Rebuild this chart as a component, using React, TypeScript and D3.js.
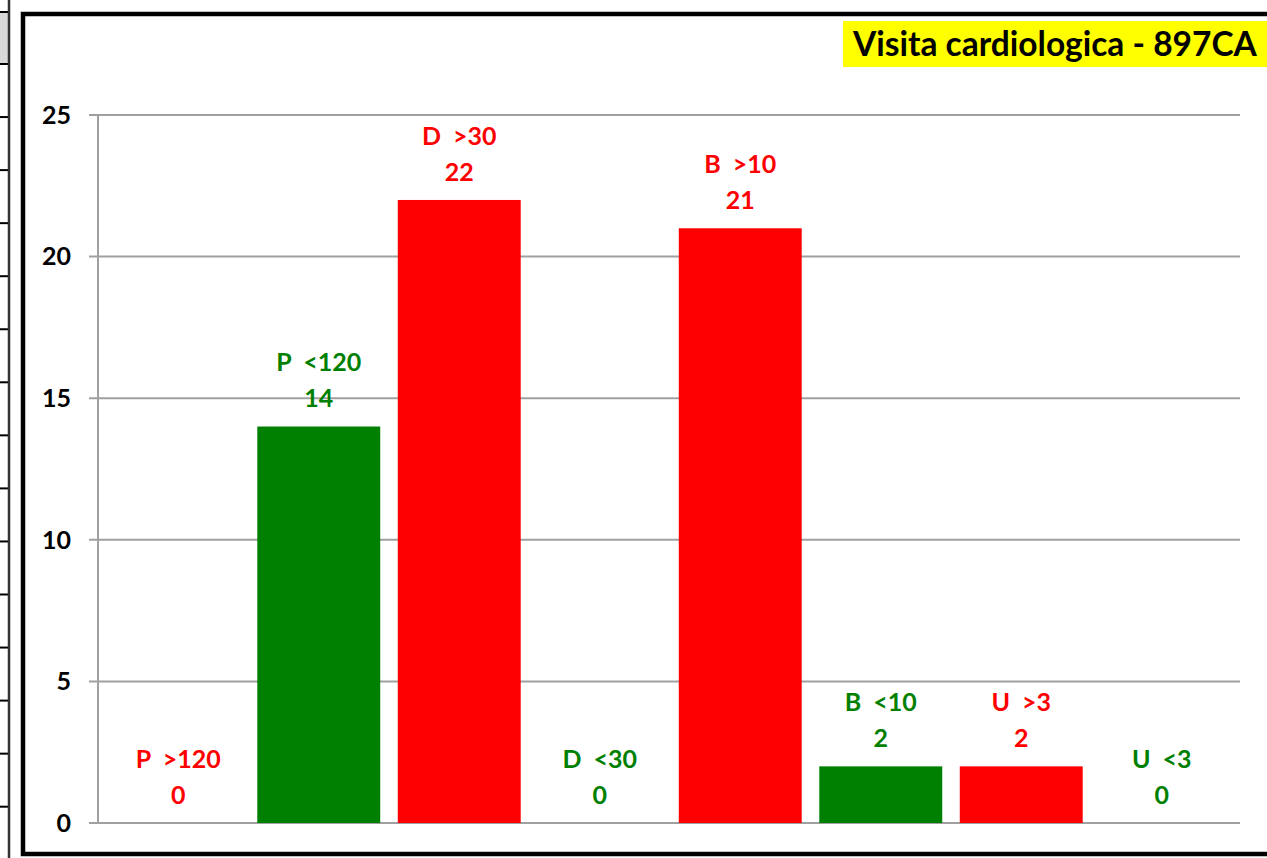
import React, { useEffect } from "react";
import * as d3 from "d3";

// dati del grafico
const categories = ["P  >120", "P  <120", "D  >30", "D  <30", "B  >10", "B  <10", "U  >3", "U  <3"];
const values = [0, 14, 22, 0, 21, 2, 2, 0];
const status = ["alto", "basso", "alto", "basso", "alto", "basso", "alto", "basso"];
const yTicks = [0, 5, 10, 15, 20, 25];
const title = "Visita cardiologica - 897CA";

const W = 1267;
const H = 858;
const FONT = "Lato, 'Open Sans', sans-serif";
const colore = (s: string) => (s === "alto" ? "#ff0000" : "#008000");

export default function App() {
  useEffect(() => {
    document.body.style.margin = "0";
  }, []);

  const x = d3
    .scaleBand<number>()
    .domain(d3.range(categories.length))
    .range([108, 1232])
    .paddingInner(0.125)
    .paddingOuter(0.0625);
  const y = d3.scaleLinear().domain([0, 25]).range([823, 115]);

  // righe del foglio di calcolo a sinistra
  const rows = d3.range(64, 830, 53.05);

  return (
    <svg width={W} height={H} style={{ display: "block", background: "#fff" }}>
      {/* bordo celle a sinistra */}
      <rect x={0} y={12} width={8} height={52} fill="#d9d9d9" />
      <line x1={0} x2={9} y1={12} y2={12} stroke="#000" strokeWidth={2} />
      {rows.map((r, i) => (
        <line key={i} x1={0} x2={9} y1={r} y2={r} stroke="#000" strokeWidth={2} />
      ))}
      <line x1={9} x2={9} y1={0} y2={H} stroke="#333" strokeWidth={2.5} />

      {/* cornice del grafico */}
      <rect x={23} y={14} width={W + 10} height={840} fill="#fff" stroke="#000" strokeWidth={4.5} />

      {/* griglia */}
      {yTicks.map((t) => (
        <g key={t}>
          <line x1={89} x2={1240} y1={y(t)} y2={y(t)} stroke="#a0a0a0" strokeWidth={2} />
          <text
            x={71}
            y={y(t)}
            dy="0.35em"
            textAnchor="end"
            fontFamily={FONT}
            fontWeight="bold"
            fontSize={25}
            fill="#000"
          >
            {t}
          </text>
        </g>
      ))}
      <line x1={98} x2={98} y1={y(25)} y2={y(0)} stroke="#a0a0a0" strokeWidth={2} />

      {/* barre */}
      {values.map((v, i) => (
        <rect
          key={i}
          x={x(i)}
          y={y(v)}
          width={x.bandwidth()}
          height={y(0) - y(v)}
          fill={colore(status[i])}
        />
      ))}

      {/* etichette */}
      {values.map((v, i) => {
        const cx = (x(i) ?? 0) + x.bandwidth() / 2;
        const top = y(v);
        return (
          <g key={i} fill={colore(status[i])} fontFamily={FONT} fontWeight="bold" fontSize={25} textAnchor="middle">
            <text x={cx} y={top - 64} dy="0.35em" style={{ whiteSpace: "pre" }}>
              {categories[i]}
            </text>
            <text x={cx} y={top - 28} dy="0.35em">
              {v}
            </text>
          </g>
        );
      })}

      {/* titolo */}
      <rect x={843} y={21} width={430} height={46} fill="#ffff00" />
      <text x={853} y={56} fontFamily={FONT} fontWeight="bold" fontSize={33.5} fill="#000">
        {title}
      </text>
    </svg>
  );
}
